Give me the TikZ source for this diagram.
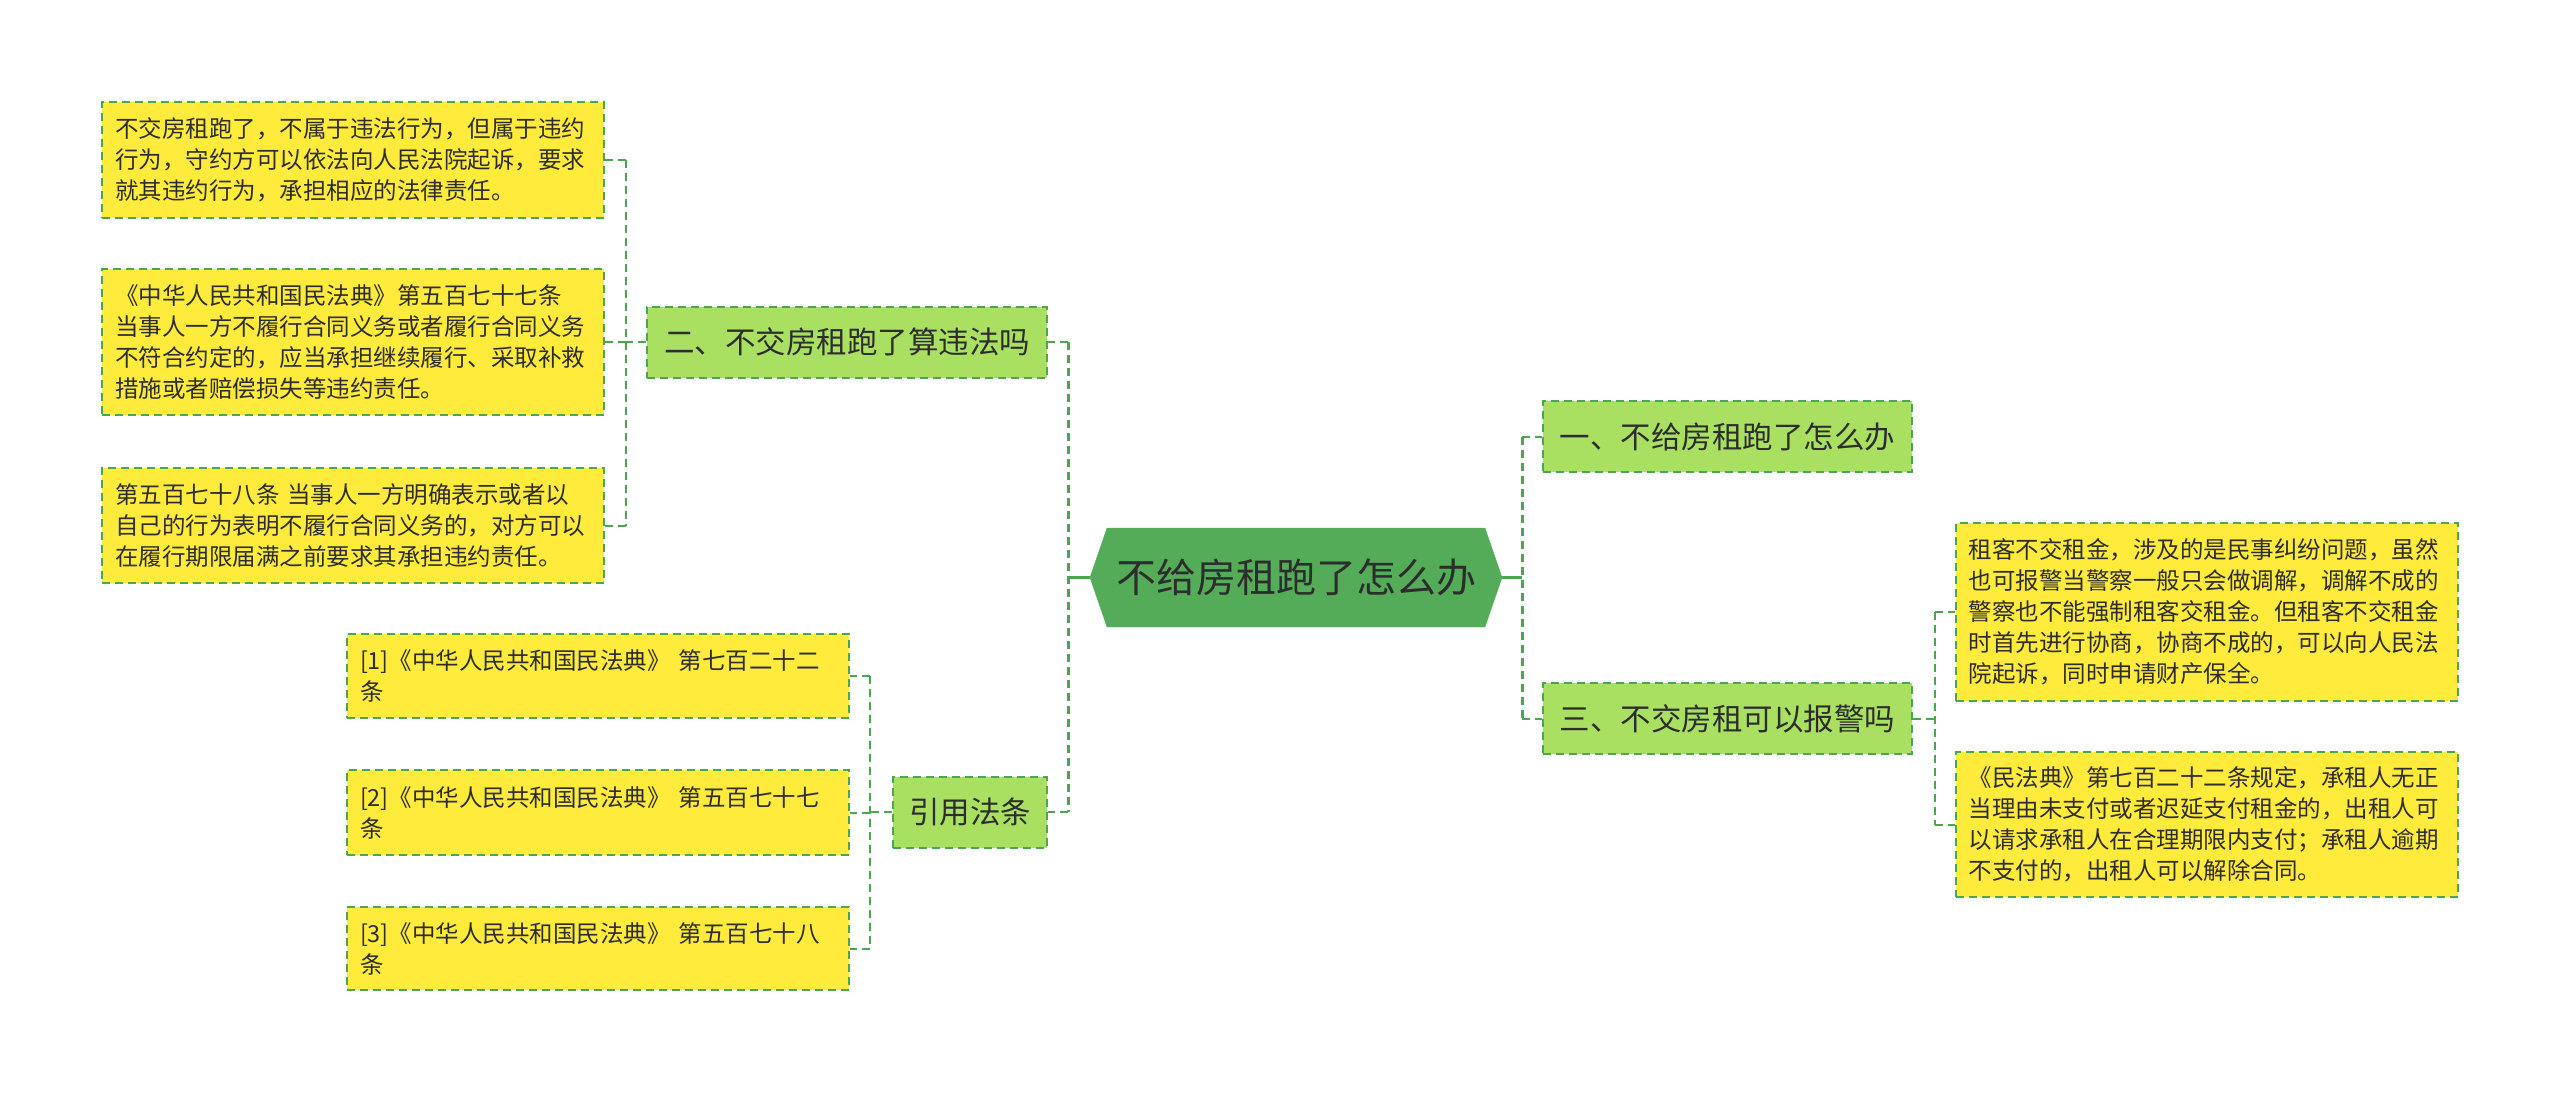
\documentclass[tikz,border=0pt]{standalone}
\usepackage{fontspec}
\usepackage{xcolor}
\usepackage{tikz}
\setmainfont{Noto Sans CJK SC}
\usetikzlibrary{positioning, calc, shapes.symbols}

\definecolor{leafyellow}{HTML}{FFEB3B}
\definecolor{topicgreen}{HTML}{A9E062}
\definecolor{rootgreen}{HTML}{54AC59}
\definecolor{linegreen}{HTML}{4CA64F}
\definecolor{textdark}{HTML}{2D2D2D}

\begin{document}
\begin{tikzpicture}[
    x=1pt, y=-1pt,
    link/.style={draw=linegreen, line width=2pt, dash pattern=on 8pt off 5pt},
    mainlink/.style={link, line width=3pt},
    rootlink/.style={draw=linegreen, line width=2.5pt},
    rootnode/.style={signal, signal to=west and east, signal pointer angle=142,
        fill=rootgreen, draw=rootgreen, minimum width=412pt, minimum height=99pt,
        inner xsep=0pt, font=\fontsize{40}{48}\selectfont, text=textdark},
    topic/.style={rectangle, fill=topicgreen, draw=linegreen, line width=2pt,
        dash pattern=on 8pt off 5pt, minimum height=71pt, inner xsep=0pt,
        font=\fontsize{30.5}{36}\selectfont, text=textdark},
    leaf/.style={rectangle, fill=leafyellow, draw=linegreen, line width=2pt,
        dash pattern=on 8pt off 5pt, text width=476pt, inner xsep=13pt, inner ysep=0pt,
        align=left, font=\fontsize{23.5}{31}\selectfont, text=textdark}
]
    \useasboundingbox (0,0) rectangle (2560,1094);

    % centre and first level
    \node[rootnode] (root) at (1296,577.5) {不给房租跑了怎么办};
    \node[topic, minimum width=400pt] (q2) at (847,342) {二、不交房租跑了算违法吗};
    \node[topic, minimum width=154pt] (cite) at (970,812) {引用法条};
    \node[topic, minimum width=369pt] (q1) at (1727.5,436.5) {一、不给房租跑了怎么办};
    \node[topic, minimum width=369pt] (q3) at (1727.5,718.5) {三、不交房租可以报警吗};

    % leaves of q2
    \node[leaf, minimum height=116pt] (q2a) at (353,160)
        {不交房租跑了，不属于违法行为，但属于违约\\行为，守约方可以依法向人民法院起诉，要求\\就其违约行为，承担相应的法律责任。};
    \node[leaf, minimum height=146pt] (q2b) at (353,342)
        {《中华人民共和国民法典》第五百七十七条\\当事人一方不履行合同义务或者履行合同义务\\不符合约定的，应当承担继续履行、采取补救\\措施或者赔偿损失等违约责任。};
    \node[leaf, minimum height=115pt] (q2c) at (353,525.5)
        {第五百七十八条 当事人一方明确表示或者以\\自己的行为表明不履行合同义务的，对方可以\\在履行期限届满之前要求其承担违约责任。};

    % leaves of cite
    \node[leaf, minimum height=84pt] (citea) at (598,676)
        {[1]《中华人民共和国民法典》 第七百二十二\\条};
    \node[leaf, minimum height=85pt] (citeb) at (598,812.5)
        {[2]《中华人民共和国民法典》 第五百七十七\\条};
    \node[leaf, minimum height=83pt] (citec) at (598,948.5)
        {[3]《中华人民共和国民法典》 第五百七十八\\条};

    % leaves of q3
    \node[leaf, minimum height=178pt] (q3a) at (2206.5,612)
        {租客不交租金，涉及的是民事纠纷问题，虽然\\也可报警当警察一般只会做调解，调解不成的\\警察也不能强制租客交租金。但租客不交租金\\时首先进行协商，协商不成的，可以向人民法\\院起诉，同时申请财产保全。};
    \node[leaf, minimum height=145pt] (q3b) at (2206.5,824.5)
        {《民法典》第七百二十二条规定，承租人无正\\当理由未支付或者迟延支付租金的，出租人可\\以请求承租人在合理期限内支付；承租人逾期\\不支付的，出租人可以解除合同。};

    % connectors
    \coordinate (lhub) at (1068,577.5);
    \coordinate (rhub) at (1522,577.5);
    \coordinate (q2hub) at (626,342);
    \coordinate (citehub) at (870,812);
    \coordinate (q3hub) at (1935,718.5);

    \draw[rootlink] (root.west) -- (lhub);
    \draw[rootlink] (root.east) -- (rhub);
    \draw[mainlink] (lhub |- q2.east) -- (lhub |- cite.east);
    \draw[mainlink] (rhub |- q1.west) -- (rhub |- q3.west);
    \foreach \n in {q2, cite} \draw[link] (lhub |- \n.east) -- (\n.east);
    \foreach \n in {q1, q3} \draw[link] (rhub |- \n.west) -- (\n.west);

    \draw[link] (q2.west) -- (q2hub);
    \draw[link] (q2hub |- q2a.east) -- (q2hub |- q2c.east);
    \foreach \n in {q2a, q2b, q2c} \draw[link] (q2hub |- \n.east) -- (\n.east);

    \draw[link] (cite.west) -- (citehub);
    \draw[link] (citehub |- citea.east) -- (citehub |- citec.east);
    \foreach \n in {citea, citeb, citec} \draw[link] (citehub |- \n.east) -- (\n.east);

    \draw[link] (q3.east) -- (q3hub);
    \draw[link] (q3hub |- q3a.west) -- (q3hub |- q3b.west);
    \foreach \n in {q3a, q3b} \draw[link] (q3hub |- \n.west) -- (\n.west);
\end{tikzpicture}
\end{document}
